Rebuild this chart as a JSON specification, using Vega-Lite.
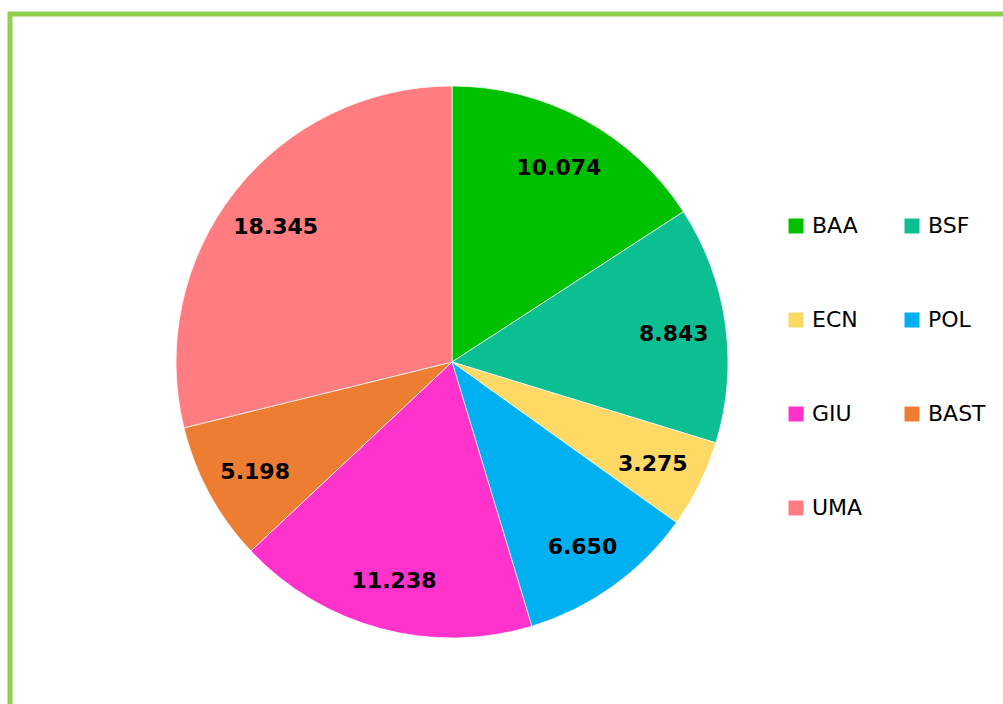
{
  "$schema": "https://vega.github.io/schema/vega-lite/v6.json",
  "width": 1000,
  "height": 700,
  "autosize": {"type": "none"},
  "padding": {"left": 10, "top": 14, "right": 0, "bottom": 0},
  "background": "white",
  "config": {
    "view": {"stroke": null},
    "font": "DejaVu Sans"
  },
  "data": {
    "values": [
      {"cat": "BAA", "value": 10.074, "label": "10.074", "order": 1},
      {"cat": "BSF", "value": 8.843, "label": "8.843", "order": 2},
      {"cat": "ECN", "value": 3.275, "label": "3.275", "order": 3},
      {"cat": "POL", "value": 6.650, "label": "6.650", "order": 4},
      {"cat": "GIU", "value": 11.238, "label": "11.238", "order": 5},
      {"cat": "BAST", "value": 5.198, "label": "5.198", "order": 6},
      {"cat": "UMA", "value": 18.345, "label": "18.345", "order": 7}
    ]
  },
  "layer": [
    {
      "data": {"values": [{"frame": 1}]},
      "mark": {"type": "rect", "fill": null, "stroke": "#92D050", "strokeWidth": 5},
      "encoding": {
        "x": {"value": 0},
        "x2": {"value": "width"},
        "y": {"value": 0},
        "y2": {"value": "height"}
      }
    },
    {
      "mark": {"type": "arc", "radius": 276, "x": 442, "y": 348, "stroke": "white", "strokeWidth": 0.7},
      "encoding": {
        "theta": {"field": "value", "type": "quantitative", "stack": true},
        "order": {"field": "order", "type": "quantitative"},
        "color": {
          "field": "cat",
          "type": "nominal",
          "scale": {
            "domain": ["BAA", "BSF", "ECN", "POL", "GIU", "BAST", "UMA"],
            "range": ["#00C000", "#0BBF93", "#FFD966", "#00B0F0", "#FF33CC", "#ED7D31", "#FF7C80"]
          },
          "legend": {
            "title": null,
            "orient": "none",
            "direction": "horizontal",
            "legendX": 775,
            "legendY": 201,
            "columns": 2,
            "columnPadding": 38,
            "rowPadding": 72,
            "symbolType": "square",
            "symbolSize": 225,
            "symbolStrokeWidth": 0,
            "symbolOpacity": 1,
            "labelFont": "DejaVu Sans",
            "labelFontSize": 22,
            "labelColor": "#000000",
            "labelOffset": 5
          }
        }
      }
    },
    {
      "mark": {"type": "text", "radius": 224, "x": 442, "y": 348, "dy": 3, "font": "DejaVu Sans", "fontWeight": "bold", "fontSize": 22, "fill": "black", "baseline": "middle", "align": "center"},
      "encoding": {
        "theta": {"field": "value", "type": "quantitative", "stack": true},
        "order": {"field": "order", "type": "quantitative"},
        "text": {"field": "label", "type": "nominal"}
      }
    }
  ]
}
